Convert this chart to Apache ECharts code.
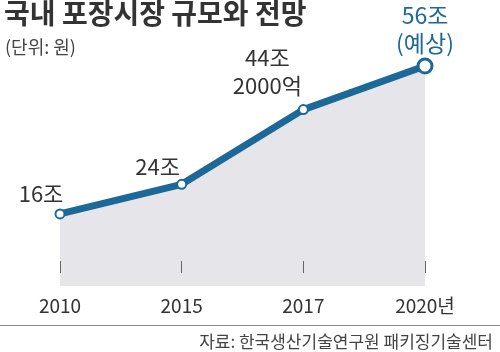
<!DOCTYPE html>
<html>
<head>
<meta charset="utf-8">
<script src="https://cdn.jsdelivr.net/npm/echarts@6/dist/echarts.min.js"></script>
<style>
  html, body { margin: 0; padding: 0; background: #fff; }
  #chart { width: 500px; height: 352px; }
</style>
</head>
<body>
<div id="chart"></div>
<script>
const years = ["2010", "2015", "2017", "2020년"];
const marketSize = [16, 24, 44.2, 56];
const pointLabels = ["16조", "24조", "44조\n2000억", "56조\n(예상)"];

const FONT = "'Noto Sans CJK KR', 'Noto Sans', sans-serif";
const BLUE = "#1b6899";

// label offsets relative to each point
const labelOffsets = [[-19, -20], [-24, -18], [-36, -38], [0, -37]];

const chart = echarts.init(document.getElementById("chart"));

chart.setOption({
  animation: false,
  title: [
    {
      text: "국내 포장시장 규모와 전망",
      left: -1,
      top: -6,
      textStyle: { fontFamily: FONT, fontSize: 28, fontWeight: "bold", color: "#333" },
    },
    {
      text: "(단위: 원)",
      left: 0,
      top: 33,
      textStyle: { fontFamily: FONT, fontSize: 18, fontWeight: "normal", color: "#444" },
    },
    {
      text: "자료: 한국생산기술연구원 패키징기술센터",
      right: 2,
      top: 328,
      textStyle: { fontFamily: FONT, fontSize: 17, fontWeight: "normal", color: "#444" },
    },
  ],
  graphic: [
    {
      type: "line",
      shape: { x1: 0, y1: 325.5, x2: 500, y2: 325.5 },
      style: { stroke: "#888", lineWidth: 1 },
    },
  ],
  grid: { left: 60, right: 75, top: 51.2, bottom: 66 },
  xAxis: {
    type: "category",
    data: years,
    boundaryGap: false,
    z: 10,
    axisLine: { show: false },
    axisTick: { show: true, inside: true, length: 12, alignWithLabel: true, lineStyle: { color: "#666" } },
    axisLabel: { margin: 10, fontFamily: FONT, fontSize: 19, color: "#333" },
  },
  yAxis: {
    type: "value",
    min: -3.5,
    max: 60,
    show: false,
  },
  series: [
    {
      type: "line",
      data: marketSize.map((v, i) => ({
        value: v,
        symbolSize: i === 3 ? 14 : 9,
        itemStyle: { borderWidth: i === 3 ? 3 : 2 },
        label: {
          offset: labelOffsets[i],
          color: i === 3 ? BLUE : "#333",
          fontSize: i === 3 ? 23 : 22,
          lineHeight: 28,
        },
      })),
      symbol: "circle",
      lineStyle: { color: BLUE, width: 7 },
      itemStyle: { color: "#fff", borderColor: BLUE },
      areaStyle: { color: "#e6e6ea", opacity: 1, origin: "start" },
      label: {
        show: true,
        position: "inside",
        align: "center",
        verticalAlign: "middle",
        fontFamily: FONT,
        formatter: (p) => pointLabels[p.dataIndex],
      },
      z: 3,
    },
  ],
});
</script>
</body>
</html>
